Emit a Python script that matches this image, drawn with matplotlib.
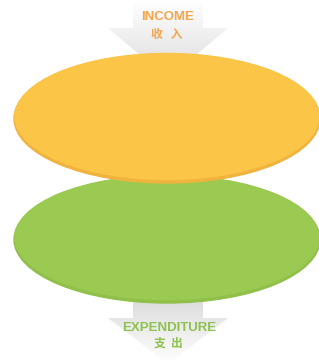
import numpy as np
import matplotlib
matplotlib.use("Agg")
import matplotlib.pyplot as plt
from matplotlib.patches import Ellipse, Polygon

plt.rcParams['font.family'] = ['Liberation Sans', 'Noto Sans CJK SC']

# two stacked discs, top = income, bottom = expenditure
labels_en = ['INCOME', 'EXPENDITURE']
labels_cn = ['收   入', '支  出']
text_colors = ['#F3A64C', '#8DC24F']
disc_colors = ['#FBC547', '#9BCA53']
rim_colors = ['#F0B33E', '#90C04A']
disc_cy = [117, 238]
disc_h = [130, 128]

fig = plt.figure(figsize=(3.19, 3.60), dpi=100)
ax = fig.add_axes([0, 0, 1, 1])
ax.set_xlim(0, 319)
ax.set_ylim(360, 0)
ax.axis('off')

cx = 167
w = 306


def arrow(y_top, y_wing, y_tip, dark_at_tip=True):
    pts = [(133, y_top), (203, y_top), (203, y_wing), (228, y_wing),
           (168, y_tip), (108, y_wing), (133, y_wing)]
    poly = Polygon(pts, closed=True, facecolor='none', edgecolor='none')
    ax.add_patch(poly)
    g = np.linspace(0, 1, 100).reshape(-1, 1)
    if not dark_at_tip:
        g = g[::-1]
    shade = 1.0 - 0.14 * g
    rgb = np.dstack([shade, shade, shade])
    img = ax.imshow(rgb, extent=(100, 240, y_tip, y_top), aspect='auto',
                    interpolation='bilinear', zorder=0)
    img.set_clip_path(poly)


# bottom disc drawn first so the yellow one sits on top
for i in [1, 0]:
    ax.add_patch(Ellipse((cx, disc_cy[i] + 1.5), w, disc_h[i] - 1,
                         color=rim_colors[i], zorder=2 + 2 * (1 - i)))
    ax.add_patch(Ellipse((cx, disc_cy[i] - 0.5), w - 2, disc_h[i] - 4,
                         color=disc_colors[i], zorder=3 + 2 * (1 - i)))

arrow(0, 28, 79, dark_at_tip=True)
arrow(298, 318, 364, dark_at_tip=False)

ax.text(168, 17, labels_en[0], color=text_colors[0], fontsize=9.5,
        fontweight='bold', ha='center', va='center', zorder=10)
ax.text(167, 34, labels_cn[0], color=text_colors[0], fontsize=8.5,
        fontweight='bold', ha='center', va='center', zorder=10,
        family=['Noto Sans CJK SC'])
ax.text(169, 328, labels_en[1], color=text_colors[1], fontsize=9.5,
        fontweight='bold', ha='center', va='center', zorder=10)
ax.text(168, 343, labels_cn[1], color=text_colors[1], fontsize=8.5,
        fontweight='bold', ha='center', va='center', zorder=10,
        family=['Noto Sans CJK SC'])

fig.savefig('out.png', dpi=100)
